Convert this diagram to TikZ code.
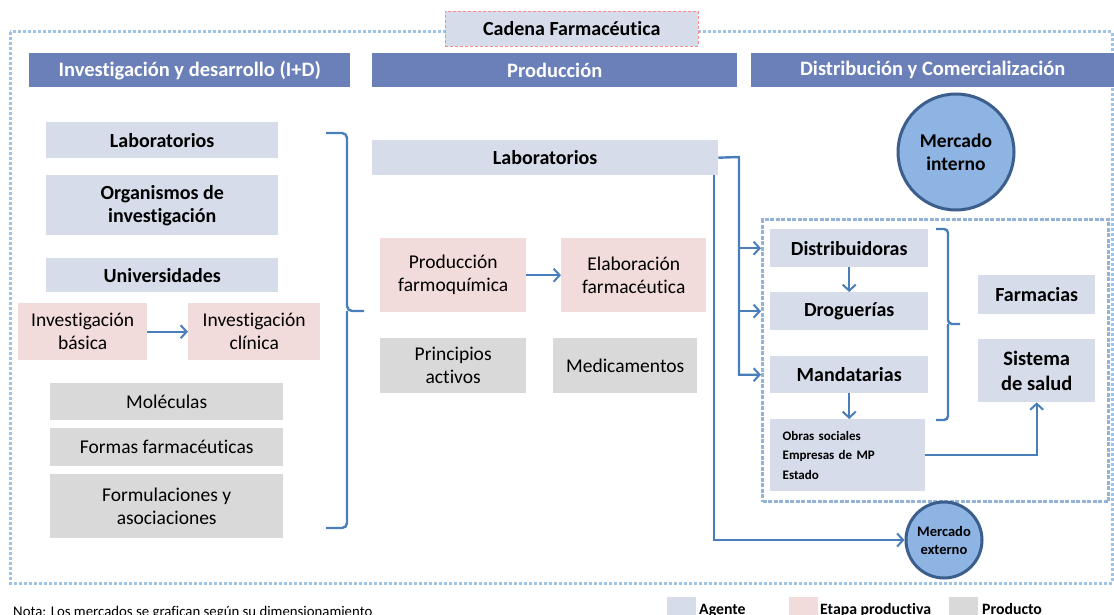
\documentclass[tikz,border=0pt]{standalone}
\usepackage{fontspec}
\setmainfont{Carlito}[Ligatures={TeX,NoCommon}]
\usetikzlibrary{arrows.meta}
\definecolor{lav}{HTML}{D6DCEA}
\definecolor{rosa}{HTML}{F2DCDB}
\definecolor{gris}{HTML}{D9D9D9}
\definecolor{barra}{HTML}{6B80B8}
\definecolor{flecha}{HTML}{4A7EBB}
\definecolor{borde}{HTML}{9DC3E6}
\definecolor{zona}{HTML}{95B3D7}
\definecolor{esfera}{HTML}{8DB4E2}
\definecolor{anillo}{HTML}{3B5E8C}
\tikzset{
  cell/.style={anchor=north west, inner sep=0pt, align=center, text=black},
  agent/.style={cell, fill=lav, font=\fontsize{20}{23}\selectfont\bfseries},
  stage/.style={cell, fill=rosa, font=\fontsize{19.5}{23}\selectfont},
  product/.style={cell, fill=gris, font=\fontsize{19.5}{23}\selectfont},
  header/.style={cell, fill=barra, text=white, font=\fontsize{20.5}{23}\selectfont\bfseries},
  market/.style={circle, fill=esfera, draw=anillo, line width=3pt, inner sep=0pt, align=center},
  conn/.style={draw=flecha, line width=2.4pt},
  arr/.style={conn, -{Straight Barb[length=6pt, width=13pt, line width=2pt]}},
  legtext/.style={anchor=base west, inner sep=0pt, font=\fontsize{15.8}{17}\selectfont\bfseries}
}
\begin{document}
\begin{tikzpicture}[x=1pt, y=-1pt]
\useasboundingbox (0,0) rectangle (1114,615);

% outer dotted frame of the chain
\draw[borde, line width=3pt, dash pattern=on 3pt off 2pt] (10,32) rectangle (1112,583);

% title
\node[cell, fill=lav, draw=red!45, densely dashed, line width=0.6pt, minimum width=253pt, minimum height=35pt,
      font=\fontsize{20}{23}\selectfont\bfseries] (title) at (445,11) {Cadena Farmacéutica};

% stage headers
\node[header, minimum width=321pt, minimum height=34pt] (hid) at (29,53) {Investigación y desarrollo (I+D)};
\node[header, minimum width=365pt, minimum height=34pt] (hprod) at (372,53) {Producción};
\node[header, minimum width=363pt, minimum height=34pt] (hdist) at (751,53) {Distribución y Comercialización};

% research and development
\node[agent, minimum width=232pt, minimum height=36pt] (labL) at (46,122) {Laboratorios};
\node[agent, minimum width=232pt, minimum height=60pt] (org) at (46,175) {Organismos de\\investigación};
\node[agent, minimum width=232pt, minimum height=34pt] (univ) at (46,258) {Universidades};
\node[stage, minimum width=129pt, minimum height=57pt] (ibas) at (18,303) {Investigación\\básica};
\node[stage, minimum width=132pt, minimum height=57pt] (icli) at (188,303) {Investigación\\clínica};
\node[product, minimum width=233pt, minimum height=37pt] (mol) at (50,383) {Moléculas};
\node[product, minimum width=233pt, minimum height=38pt] (formas) at (50,428) {Formas farmacéuticas};
\node[product, minimum width=233pt, minimum height=64pt] (formul) at (50,474) {Formulaciones y\\asociaciones};
\draw[arr] (ibas.east) -- (icli.west);

% brace gathering the R&D column
\draw[conn, rounded corners=5pt] (326,133) -- (347,133) -- (347,311) -- (364,311);
\draw[conn, rounded corners=5pt] (326,528) -- (347,528) -- (347,311);

% production
\node[agent, minimum width=346pt, minimum height=35pt] (labP) at (372,140) {Laboratorios};
\node[stage, minimum width=146pt, minimum height=74pt] (pfq) at (380,238) {Producción\\farmoquímica};
\node[stage, minimum width=145pt, minimum height=74pt] (efa) at (561,238) {Elaboración\\farmacéutica};
\node[product, minimum width=146pt, minimum height=55pt] (pact) at (380,338) {Principios\\activos};
\node[product, minimum width=144pt, minimum height=55pt] (med) at (553,338) {Medicamentos};
\draw[arr] (pfq.east) -- (efa.west);

% domestic market
\node[market, minimum size=116pt, font=\fontsize{19.5}{23}\selectfont\bfseries] (mint) at (956,152) {Mercado\\interno};
\node[draw=zona, line width=3pt, dash pattern=on 4pt off 1.5pt, anchor=north west, inner sep=0pt,
      minimum width=346pt, minimum height=282pt] (zone) at (761,218) {};
\node[agent, minimum width=158pt, minimum height=38pt] (dist) at (770,229) {Distribuidoras};
\node[agent, minimum width=158pt, minimum height=38pt] (drog) at (770,292) {Droguerías};
\node[agent, minimum width=158pt, minimum height=37pt] (mand) at (770,356) {Mandatarias};
\node[cell, fill=lav, minimum width=155pt, minimum height=72pt, align=left, text width=130pt,
      font=\fontsize{13}{19.5}\selectfont\bfseries] (obras) at (770,419)
      {Obras sociales\\Empresas de MP\\Estado};
\node[agent, minimum width=117pt, minimum height=39pt] (farm) at (978,275) {Farmacias};
\node[agent, minimum width=117pt, minimum height=63pt, font=\fontsize{20.5}{25}\selectfont\bfseries] (sist) at (978,339) {Sistema\\de salud};

\draw[arr] (dist.south) -- (drog.north);
\draw[arr] (mand.south) -- (mand.south |- obras.north);
\draw[arr] (obras.east) -| (sist.south);

% brace grouping the distribution channels
\draw[conn, rounded corners=4pt] (936,229) -- (948,229) -- (948,324) -- (960,324);
\draw[conn, rounded corners=4pt] (936,420) -- (948,420) -- (948,324);

% flows out of production laboratories
\coordinate (trunk) at (739,157);
\draw[arr] (labP.east) -- (trunk) |- (zone.west |- mand);
\draw[arr] (trunk |- dist) -- (zone.west |- dist);
\draw[arr] (trunk |- drog) -- (zone.west |- drog);

% foreign market
\node[market, minimum size=76pt, font=\fontsize{14.5}{18}\selectfont\bfseries] (mext) at (944,540) {Mercado\\externo};
\coordinate (exit) at (714,175);
\draw[arr] (exit) |- (mext.west);

% note and legend
\node[anchor=base west, inner sep=0pt, font=\fontsize{14.8}{15}\selectfont] (nota) at (13,616)
  {Nota: Los mercados se grafican según su dimensionamiento};
\node[cell, fill=lav, minimum width=29pt, minimum height=20pt] (kA) at (667,597) {};
\node[legtext] (tA) at (699,614) {Agente};
\node[cell, fill=rosa, minimum width=29pt, minimum height=20pt] (kE) at (789,597) {};
\node[legtext] (tE) at (820,614) {Etapa productiva};
\node[cell, fill=gris, minimum width=29pt, minimum height=20pt] (kP) at (949,597) {};
\node[legtext] (tP) at (982,614) {Producto};
\end{tikzpicture}
\end{document}
